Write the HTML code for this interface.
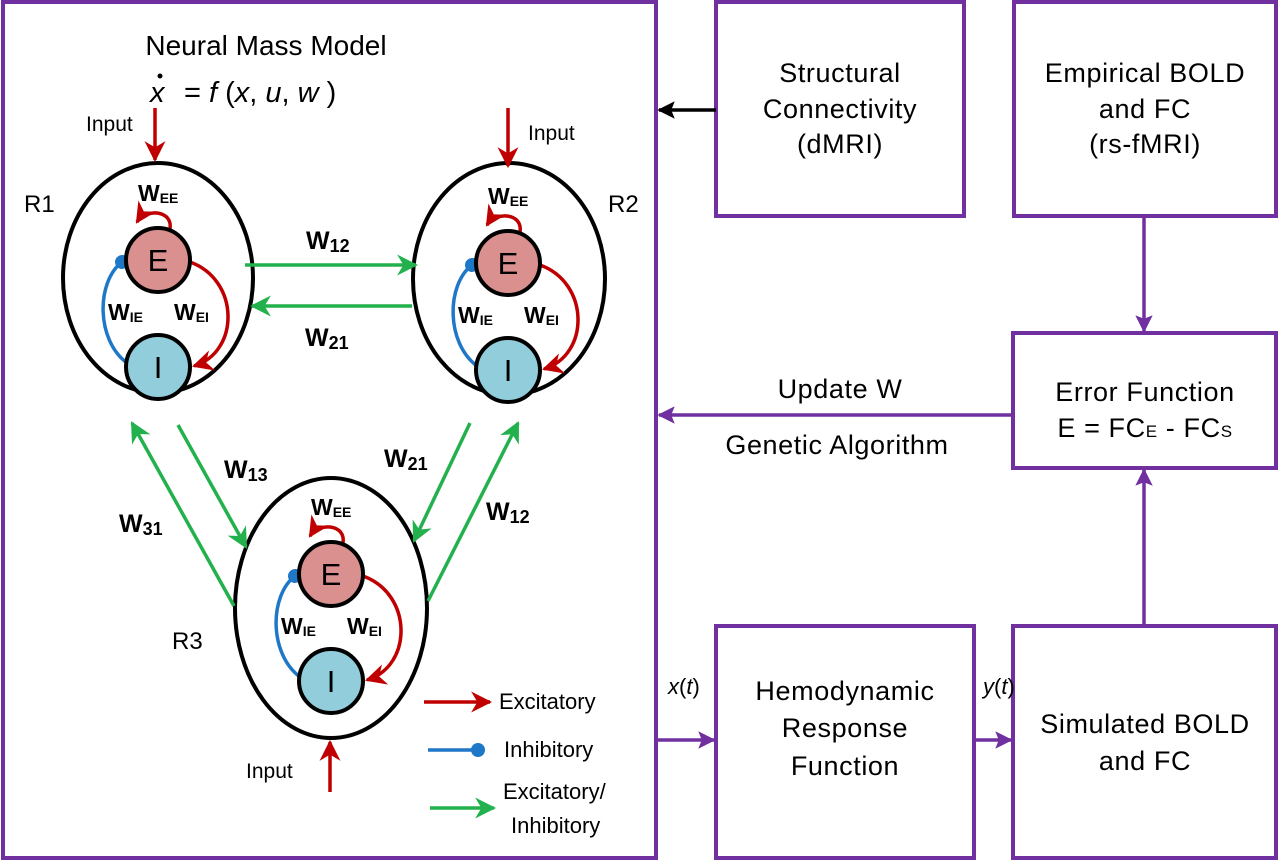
<!DOCTYPE html>
<html><head><meta charset="utf-8"><style>
html,body{margin:0;padding:0;background:#fff;}
svg{display:block;font-family:"Liberation Sans",Arial,Helvetica,sans-serif;}
</style></head><body>
<svg width="1280" height="862" viewBox="0 0 1280 862" xmlns="http://www.w3.org/2000/svg">
<defs>
<marker id="ar" viewBox="0 0 10 10" refX="9" refY="5" markerWidth="6" markerHeight="6" orient="auto" markerUnits="strokeWidth"><path d="M0,0 L10,5 L0,10 L3,5z" fill="#C00000"/></marker>
<marker id="ag" viewBox="0 0 10 10" refX="9" refY="5" markerWidth="6" markerHeight="6" orient="auto" markerUnits="strokeWidth"><path d="M0,0 L10,5 L0,10 L3,5z" fill="#22B14C"/></marker>
<marker id="ap" viewBox="0 0 10 10" refX="9" refY="5" markerWidth="5" markerHeight="5" orient="auto" markerUnits="strokeWidth"><path d="M0,0 L10,5 L0,10 L2,5z" fill="#7030A0"/></marker>
<marker id="ak" viewBox="0 0 10 10" refX="9" refY="5" markerWidth="5" markerHeight="5" orient="auto" markerUnits="strokeWidth"><path d="M0,0 L10,5 L0,10 L2,5z" fill="#000"/></marker>
<marker id="dot" viewBox="0 0 10 10" refX="5" refY="5" markerWidth="4" markerHeight="4" orient="auto" markerUnits="strokeWidth"><circle cx="5" cy="5" r="5" fill="#1F77C8"/></marker>
<g id="inner">
  <path d="M12,-31 C15,-50 -12,-52 -21,-38" fill="none" stroke="#C00000" stroke-width="3.5" marker-end="url(#ar)"/>
  <path d="M32,2 C82,20 82,92 36,106" fill="none" stroke="#C00000" stroke-width="3.5" marker-end="url(#ar)"/>
  <path d="M-31,103 C-62,80 -62,22 -36,2" fill="none" stroke="#1F77C8" stroke-width="3.5" marker-end="url(#dot)"/>
  <circle cx="0" cy="0" r="32" fill="#D9908F" stroke="#000" stroke-width="4"/>
  <circle cx="0" cy="107" r="32" fill="#92CDDC" stroke="#000" stroke-width="4"/>
  <text x="0" y="11" font-size="31" text-anchor="middle">E</text>
  <text x="0" y="118" font-size="31" text-anchor="middle">I</text>
  <text x="-20" y="-59" font-size="23" font-weight="bold">W<tspan font-size="14" dy="2">EE</tspan></text>
  <text x="-50" y="60" font-size="23" font-weight="bold">W<tspan font-size="14" dy="2">IE</tspan></text>
  <text x="16" y="60" font-size="23" font-weight="bold">W<tspan font-size="14" dy="2">EI</tspan></text>
</g>
</defs>

<g fill="none" stroke="#7030A0" stroke-width="4">
<rect x="3" y="2" width="653" height="856"/>
<rect x="716" y="2" width="248" height="214"/>
<rect x="1014" y="2" width="262" height="214"/>
<rect x="1013" y="333" width="263" height="135"/>
<rect x="716" y="626" width="258" height="232"/>
<rect x="1013" y="626" width="263" height="232"/>
</g>

<text x="266" y="55" font-size="28" text-anchor="middle">Neural Mass Model</text>
<text x="150" y="102" font-size="29" font-style="italic">x</text>
<circle cx="160" cy="76" r="2.5" fill="#000"/>
<text x="184" y="102" font-size="29"><tspan>= </tspan><tspan font-style="italic">f</tspan> (<tspan font-style="italic">x</tspan>, <tspan font-style="italic">u</tspan>, <tspan font-style="italic">w</tspan> )</text>

<g fill="none" stroke="#000" stroke-width="4">
<ellipse cx="158" cy="278" rx="95" ry="115"/>
<ellipse cx="509" cy="279" rx="96" ry="116"/>
<ellipse cx="331" cy="608" rx="96" ry="130"/>
</g>
<use href="#inner" transform="translate(158,260)"/>
<use href="#inner" transform="translate(508,263)"/>
<use href="#inner" transform="translate(331,574)"/>

<text x="24" y="212" font-size="24">R1</text>
<text x="608" y="212" font-size="24">R2</text>
<text x="172" y="649" font-size="24">R3</text>

<g stroke="#C00000" stroke-width="3.5" marker-end="url(#ar)">
<line x1="155" y1="108" x2="155" y2="160"/>
<line x1="508" y1="108" x2="508" y2="166"/>
<line x1="330" y1="792" x2="330" y2="742"/>
</g>
<text x="86" y="131" font-size="21">Input</text>
<text x="528" y="140" font-size="21">Input</text>
<text x="246" y="778" font-size="21">Input</text>

<g stroke="#22B14C" stroke-width="3.5" marker-end="url(#ag)">
<line x1="245" y1="265" x2="416" y2="265"/>
<line x1="412" y1="306" x2="252" y2="306"/>
<line x1="178" y1="425" x2="246" y2="547"/>
<line x1="234" y1="606" x2="132" y2="423"/>
<line x1="470" y1="423" x2="414" y2="541"/>
<line x1="428" y1="601" x2="518" y2="423"/>
</g>
<g font-size="25" font-weight="bold">
<text x="306" y="249">W<tspan font-size="18" dy="3">12</tspan></text>
<text x="305" y="346">W<tspan font-size="18" dy="3">21</tspan></text>
<text x="224" y="478">W<tspan font-size="18" dy="3">13</tspan></text>
<text x="384" y="467">W<tspan font-size="18" dy="3">21</tspan></text>
<text x="486" y="520">W<tspan font-size="18" dy="3">12</tspan></text>
<text x="119" y="532">W<tspan font-size="18" dy="3">31</tspan></text>
</g>

<line x1="424" y1="702" x2="490" y2="702" stroke="#C00000" stroke-width="3.5" marker-end="url(#ar)"/>
<text x="499" y="709" font-size="22">Excitatory</text>
<line x1="428" y1="750" x2="478" y2="750" stroke="#1F77C8" stroke-width="3.5" marker-end="url(#dot)"/>
<text x="504" y="757" font-size="22">Inhibitory</text>
<line x1="430" y1="808" x2="494" y2="808" stroke="#22B14C" stroke-width="3.5" marker-end="url(#ag)"/>
<text x="503" y="799" font-size="22">Excitatory/</text>
<text x="511" y="833" font-size="22">Inhibitory</text>

<g font-size="27" text-anchor="middle" letter-spacing="0.6">
<text x="840" y="82">Structural</text>
<text x="840" y="118">Connectivity</text>
<text x="840" y="153">(dMRI)</text>
<text x="1145" y="82">Empirical BOLD</text>
<text x="1145" y="118">and FC</text>
<text x="1145" y="153">(rs-fMRI)</text>
<text x="1145" y="401">Error Function</text>
<text x="1145" y="437">E = FC<tspan font-size="17">E</tspan> - FC<tspan font-size="17">S</tspan></text>
<text x="840" y="398">Update W</text>
<text x="837" y="454">Genetic Algorithm</text>
<text x="845" y="700">Hemodynamic</text>
<text x="845" y="737">Response</text>
<text x="845" y="775">Function</text>
<text x="1145" y="733">Simulated BOLD</text>
<text x="1145" y="770">and  FC</text>
</g>
<text x="668" y="694" font-size="22"><tspan font-style="italic">x</tspan>(<tspan font-style="italic">t</tspan>)</text>
<text x="983" y="694" font-size="22"><tspan font-style="italic">y</tspan>(<tspan font-style="italic">t</tspan>)</text>

<line x1="716" y1="110" x2="659" y2="110" stroke="#000" stroke-width="3.5" marker-end="url(#ak)"/>
<g stroke="#7030A0" stroke-width="3.5" marker-end="url(#ap)">
<line x1="1012" y1="415" x2="659" y2="415"/>
<line x1="1144" y1="218" x2="1144" y2="331"/>
<line x1="1144" y1="624" x2="1144" y2="470"/>
<line x1="658" y1="740" x2="714" y2="740"/>
<line x1="976" y1="740" x2="1011" y2="740"/>
</g>
</svg>
</body></html>
